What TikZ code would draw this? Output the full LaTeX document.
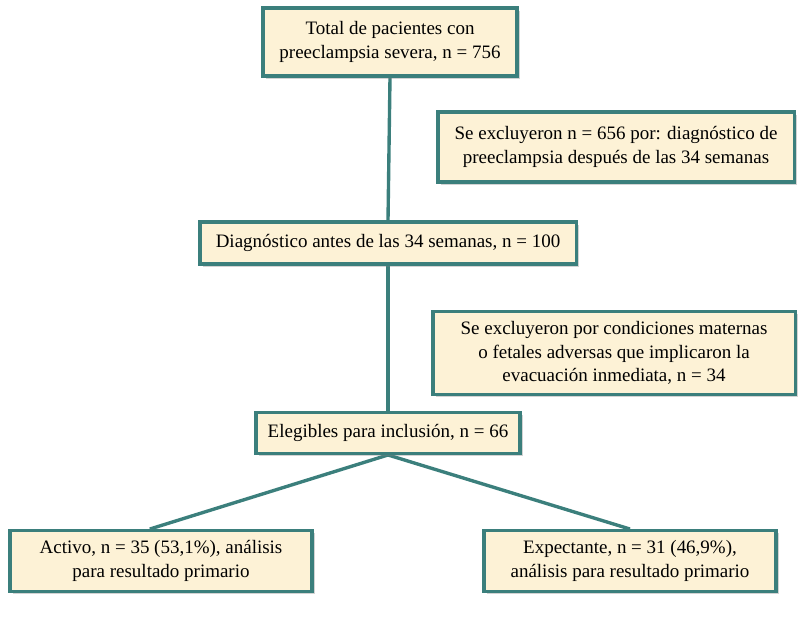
\documentclass[tikz,border=0pt]{standalone}
\usepackage{fontspec}
\setmainfont{Liberation Serif}
\usetikzlibrary{shadows,backgrounds}
\definecolor{tealline}{HTML}{3B7F7C}
\definecolor{creamfill}{HTML}{FDF2D6}
\begin{document}
\begin{tikzpicture}[x=0.025cm,y=-0.025cm,
  box/.style={draw=tealline,line width=2.2pt,fill=creamfill,align=center,
    font=\fontsize{13.5}{16.5}\selectfont,inner sep=0pt,
    drop shadow={shadow xshift=2pt,shadow yshift=-2pt,opacity=0.35}},
  link/.style={draw=tealline,line width=2.4pt}]
  \useasboundingbox (0,0) rectangle (810,621);

  \node [box, minimum width=6.35cm, minimum height=1.7cm]
    (total) at (390,42) {Total de pacientes con\\preeclampsia severa, n = 756};
  \node [box, minimum width=8.9cm, minimum height=1.75cm] (excl1) at (616,147)
    {Se excluyeron n = 656 por: diagnóstico de\\preeclampsia después de las 34 semanas};
  \node [box, minimum width=9.4cm, minimum height=1.05cm] (antes) at (388,243)
    {Diagnóstico antes de las 34 semanas, n = 100};
  \node [box, minimum width=9.05cm, minimum height=2.07cm] (excl2) at (614,353)
    {Se excluyeron por condiciones maternas\\o fetales adversas que implicaron la\\evacuación inmediata, n = 34};
  \node [box, minimum width=6.6cm, minimum height=1.02cm] (eleg) at (388,433)
    {Elegibles para inclusión, n = 66};
  \node [box, minimum width=7.55cm, minimum height=1.52cm] (activo) at (161,561)
    {Activo, n = 35 (53,1\%), análisis\\para resultado primario};
  \node [box, minimum width=7.3cm, minimum height=1.52cm] (expect) at (630,561)
    {Expectante, n = 31 (46,9\%),\\análisis para resultado primario};

  \begin{scope}[on background layer]
  \path [link] (total.south) -- (antes.north);
  \path [link] (antes.south) -- (eleg.north);
  \path [link] (eleg.south) -- ([xshift=-0.28cm]activo.north);
  \path [link] (eleg.south) -- (expect.north);
  \end{scope}
\end{tikzpicture}
\end{document}
